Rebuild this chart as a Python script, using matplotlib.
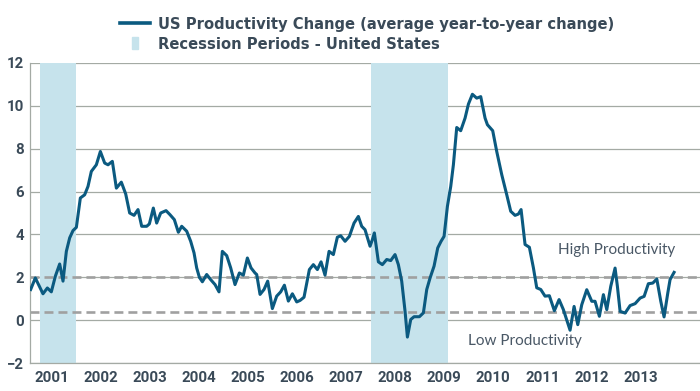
import matplotlib
matplotlib.use("Agg")
import matplotlib.pyplot as plt
from matplotlib.lines import Line2D
from matplotlib.patches import Rectangle

# data (decimal year, % change)
t_years = [
    2001.044, 2001.139, 2001.295, 2001.384, 2001.465, 2001.547, 2001.635, 2001.703,
    2001.771, 2001.839, 2001.907, 2001.975, 2002.056, 2002.144, 2002.212, 2002.280,
    2002.382, 2002.464, 2002.552, 2002.620, 2002.708, 2002.790, 2002.891, 2002.980,
    2003.061, 2003.150, 2003.231, 2003.306, 2003.408, 2003.462, 2003.543, 2003.611,
    2003.693, 2003.802, 2003.883, 2003.971, 2004.053, 2004.121, 2004.223, 2004.304,
    2004.372, 2004.426, 2004.481, 2004.542, 2004.630, 2004.712, 2004.800, 2004.881,
    2004.949, 2005.038, 2005.119, 2005.207, 2005.296, 2005.377, 2005.459, 2005.533,
    2005.615, 2005.649, 2005.717, 2005.798, 2005.873, 2005.920, 2005.968, 2006.056,
    2006.138, 2006.213, 2006.294, 2006.376, 2006.464, 2006.532, 2006.613, 2006.722,
    2006.803, 2006.885, 2006.960, 2007.041, 2007.123, 2007.211, 2007.292, 2007.360,
    2007.449, 2007.537, 2007.632, 2007.720, 2007.788, 2007.856, 2007.958, 2008.006,
    2008.046, 2008.080, 2008.128, 2008.209, 2008.298, 2008.379, 2008.467, 2008.535,
    2008.603, 2008.671, 2008.719, 2008.787, 2008.855, 2008.963, 2009.045, 2009.113,
    2009.181, 2009.262, 2009.337, 2009.405, 2009.466, 2009.534, 2009.602, 2009.656,
    2009.724, 2009.805, 2009.894, 2009.962, 2010.043, 2010.131, 2010.213, 2010.301,
    2010.349, 2010.457, 2010.539, 2010.641, 2010.743, 2010.824, 2010.912, 2010.980,
    2011.035, 2011.116, 2011.204, 2011.286, 2011.354, 2011.436, 2011.523, 2011.611,
    2011.713, 2011.809, 2011.897, 2012.033, 2012.115, 2012.190, 2012.271, 2012.373,
    2012.475, 2012.542, 2012.630, 2012.712, 2012.781, 2012.862, 2012.950, 2012.997,
    2013.052, 2013.154, 2013.256, 2013.358, 2013.460, 2013.542, 2013.628, 2013.718,
    2013.800, 2013.881, 2013.948, 2014.024, 2014.070, 2014.152,
]
prod_change = [
    1.43, 1.97, 1.23, 1.50, 1.32, 2.05, 2.62, 1.82,
    3.21, 3.84, 4.18, 4.33, 5.70, 5.85, 6.24, 6.94,
    7.25, 7.87, 7.33, 7.25, 7.41, 6.16, 6.44, 5.89,
    5.00, 4.89, 5.16, 4.38, 4.38, 4.49, 5.23, 4.53,
    5.00, 5.11, 4.92, 4.69, 4.10, 4.38, 4.15, 3.68,
    3.14, 2.44, 2.00, 1.79, 2.13, 1.89, 1.66, 1.32,
    3.21, 3.01, 2.44, 1.66, 2.20, 2.10, 2.90, 2.44,
    2.20, 2.13, 1.20, 1.43, 1.82, 1.20, 0.54, 1.12,
    1.32, 1.63, 0.89, 1.23, 0.85, 0.92, 1.07, 2.36,
    2.59, 2.36, 2.72, 2.10, 3.21, 3.06, 3.87, 3.94,
    3.68, 3.91, 4.53, 4.84, 4.38, 4.22, 3.45, 3.76,
    4.07, 3.52, 2.72, 2.59, 2.83, 2.78, 3.06, 2.59,
    1.82, 0.42, -0.79, 0.03, 0.16, 0.16, 0.34, 1.43,
    1.97, 2.52, 3.37, 3.68, 3.91, 5.31, 6.24, 7.25,
    8.99, 8.84, 9.43, 10.08, 10.54, 10.36, 10.43, 9.43,
    9.12, 8.84, 7.87, 6.79, 5.85, 5.08, 4.89, 4.95,
    5.16, 3.53, 3.40, 2.44, 1.51, 1.43, 1.12, 1.14,
    0.44, 0.96, 0.49, -0.47, 0.64, -0.21, 0.72, 1.42,
    0.88, 0.88, 0.18, 1.19, 0.49, 1.58, 2.43, 1.58,
    0.41, 0.33, 0.68, 0.77, 1.03, 1.11, 1.70, 1.73,
    1.92, 0.88, 0.15, 1.27, 1.89, 2.23,
]

rec_start = [2001.24, 2007.98]
rec_end = [2001.96, 2009.54]

high_level = 2.0
low_level = 0.38

years = list(range(2001, 2014))
y_ticks = [-2, 0, 2, 4, 6, 8, 10, 12]

line_color = "#0b5a80"
text_color = "#3a4a58"
grid_color = "#a4aaa4"
band_color = "#c6e3ec"

fig = plt.figure(figsize=(7, 3.91), dpi=100)
ax = fig.add_axes([0.0424, 0.0716, 0.9576, 0.7673])

for s, e in zip(rec_start, rec_end):
    ax.axvspan(s, e, color=band_color, lw=0, zorder=1)

for lvl in [high_level, low_level]:
    ax.axhline(lvl, color="#a0a0a0", lw=1.9, ls=(0, (3.4, 1.9)), zorder=2)

ax.plot(t_years, prod_change, color=line_color, lw=2.2, zorder=3,
        solid_joinstyle="round")

ax.set_xlim(2001.024, 2014.68)
ax.set_ylim(-2, 12)
ax.set_yticks(y_ticks)
ax.set_xticks([y + 0.47 for y in years])
ax.set_xticklabels([str(y) for y in years])
ax.grid(axis="y", color=grid_color, lw=0.9, zorder=0)
ax.set_axisbelow(True)

for side in ["top", "right"]:
    ax.spines[side].set_visible(False)
for side in ["left", "bottom"]:
    ax.spines[side].set_color(grid_color)
    ax.spines[side].set_linewidth(0.9)

ax.tick_params(length=0, labelcolor=text_color)
ax.tick_params(axis="y", pad=4)
ax.tick_params(axis="x", pad=6)
for lab in ax.get_xticklabels() + ax.get_yticklabels():
    lab.set_fontfamily("Roboto")
    lab.set_fontweight("bold")
    lab.set_fontsize(10.8)

ax.text(2011.79, 3.29, "High Productivity", family="Lato", fontsize=11,
        color="#4a5866", va="center", ha="left")
ax.text(2009.95, -0.99, "Low Productivity", family="Lato", fontsize=11,
        color="#4a5866", va="center", ha="left")

# legend drawn by hand
fig.add_artist(Line2D([0.1714, 0.2143], [0.9412, 0.9412], color=line_color,
                      lw=2.6, transform=fig.transFigure))
fig.add_artist(Rectangle((0.1886, 0.8747), 0.0086, 0.0307, color=band_color,
                         transform=fig.transFigure))
fig.text(0.2257, 0.9251, "US Productivity Change (average year-to-year change)",
         family="DejaVu Sans", fontweight="bold", fontsize=10.6, color=text_color,
         va="baseline")
fig.text(0.2257, 0.8739, "Recession Periods - United States",
         family="DejaVu Sans", fontweight="bold", fontsize=10.6, color=text_color,
         va="baseline")

fig.savefig("out.png", dpi=100)
